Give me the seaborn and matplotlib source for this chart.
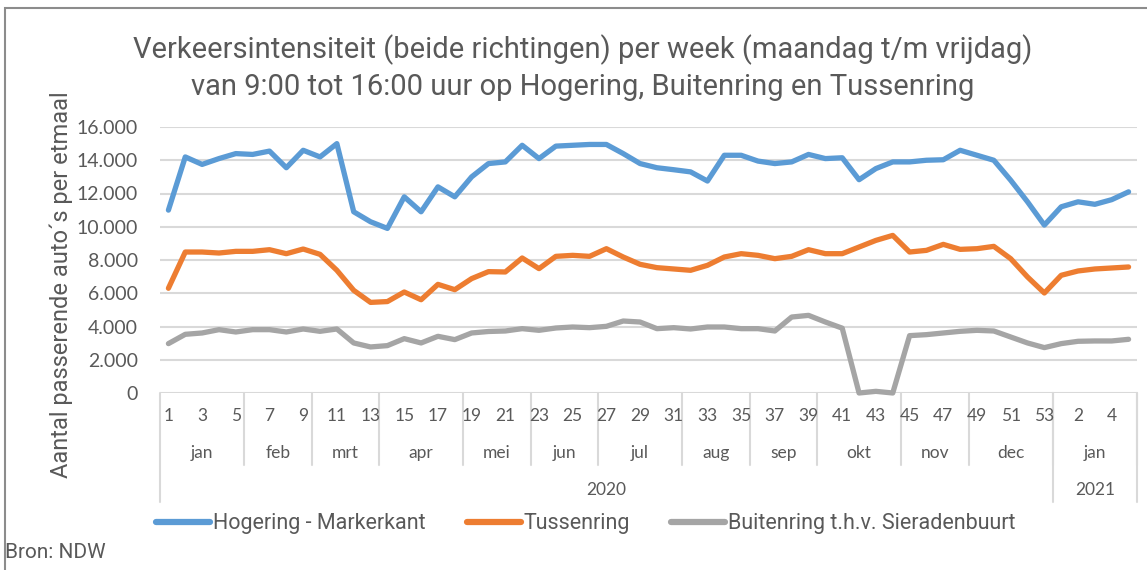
import pandas as pd
import numpy as np
import matplotlib
matplotlib.use("Agg")
import matplotlib.pyplot as plt
import matplotlib.transforms as mtransforms
from matplotlib.patches import Rectangle
import seaborn as sns

# Data
weeks_2020 = list(range(1, 54))
weeks_2021 = list(range(1, 6))
months = ["jan", "feb", "mrt", "apr", "mei", "jun", "jul", "aug", "sep", "okt", "nov", "dec", "jan"]
month_weeks = [5, 4, 4, 5, 4, 4, 5, 4, 4, 5, 4, 5, 5]
years = ["2020", "2021"]
year_weeks = [53, 5]

hogering = [11000, 14200, 13750, 14100, 14400, 14350, 14550, 13550, 14600, 14200,
            15000, 10900, 10300, 9900, 11800, 10900, 12400, 11800, 13000, 13800,
            13900, 14900, 14100, 14850, 14900, 14950, 14950, 14400, 13800, 13550,
            13430, 13300, 12750, 14300, 14300, 13950, 13800, 13900, 14350, 14100,
            14150, 12830, 13500, 13900, 13900, 14000, 14030, 14600, 14300, 14000,
            12800, 11500, 10100, 11200, 11500, 11350, 11630, 12100]
tussenring = [6300, 8480, 8480, 8420, 8520, 8520, 8620, 8380, 8660, 8340,
              7380, 6175, 5450, 5500, 6075, 5610, 6535, 6215, 6880, 7300,
              7280, 8120, 7480, 8220, 8280, 8220, 8680, 8180, 7740, 7540,
              7460, 7380, 7680, 8180, 8380, 8280, 8080, 8220, 8620, 8380,
              8380, 8780, 9180, 9480, 8480, 8580, 8940, 8640, 8680, 8820,
              8080, 6980, 6015, 7080, 7340, 7460, 7520, 7580]
buitenring = [2970, 3530, 3610, 3810, 3670, 3810, 3810, 3670, 3850, 3710,
              3850, 3010, 2770, 2850, 3270, 3010, 3410, 3210, 3610, 3700,
              3730, 3870, 3770, 3910, 3970, 3930, 4010, 4330, 4270, 3870,
              3930, 3850, 3970, 3970, 3870, 3870, 3730, 4570, 4670, 4270,
              3900, 0, 100, 0, 3450, 3510, 3610, 3710, 3770, 3730,
              3370, 3010, 2730, 2970, 3110, 3130, 3130, 3230]

series_names = ["Hogering - Markerkant", "Tussenring", "Buitenring t.h.v. Sieradenbuurt"]
y_ticks = [0, 2000, 4000, 6000, 8000, 10000, 12000, 14000, 16000]
y_tick_labels = ["0", "2.000", "4.000", "6.000", "8.000", "10.000", "12.000", "14.000", "16.000"]

title = ("Verkeersintensiteit (beide richtingen) per week (maandag t/m vrijdag)\n"
         "van 9:00 tot 16:00 uur op Hogering, Buitenring en Tussenring")
y_label = "Aantal passerende auto´s per etmaal"
source = "Bron: NDW"


def build_frame():
    week_labels = [str(w) for w in weeks_2020 + weeks_2021]
    n = len(week_labels)
    rows = []
    for name, vals in zip(series_names, [hogering, tussenring, buitenring]):
        for i in range(n):
            rows.append({"idx": i, "week": week_labels[i], "serie": name, "waarde": vals[i]})
    return pd.DataFrame(rows), week_labels


def main():
    df, week_labels = build_frame()
    n = len(week_labels)

    sns.set_theme(style="white")
    plt.rcParams["font.family"] = ["Roboto", "DejaVu Sans"]
    text_col = "#595959"
    grid_col = "#d9d9d9"
    palette = {series_names[0]: "#5b9bd5", series_names[1]: "#ed7d31", series_names[2]: "#a5a5a5"}
    num_font = ["Lato", "DejaVu Sans"]

    fig = plt.figure(figsize=(11.47, 5.70), dpi=100)
    ax = fig.add_axes([160 / 1147, 1 - 393 / 570, (1137 - 160) / 1147, (393 - 127) / 570])

    sns.lineplot(data=df, x="idx", y="waarde", hue="serie", palette=palette,
                 hue_order=series_names, estimator=None, sort=False, ax=ax,
                 linewidth=3.8, legend=False)
    for line in ax.get_lines():
        line.set_solid_capstyle("round")
        line.set_solid_joinstyle("round")
        line.set_clip_on(False)

    ax.set_xlim(-0.5, n - 0.5)
    ax.set_ylim(0, 16000)
    ax.set_yticks(y_ticks)
    ax.set_yticklabels(y_tick_labels, family=num_font, fontsize=14, color=text_col)
    ax.tick_params(axis="y", length=0, pad=16)
    ax.set_xticks([])
    ax.set_xlabel("")
    ax.set_ylabel(y_label, fontsize=17, color=text_col)
    ax.yaxis.set_label_coords(-0.089, 0.406)
    for y in y_ticks:
        ax.axhline(y, color=grid_col, lw=1.5, zorder=0)
    for s in ax.spines.values():
        s.set_visible(False)

    # multi-level category axis
    trans = mtransforms.blended_transform_factory(ax.transData, ax.transAxes)
    for i, lab in enumerate(week_labels):
        if i % 2 == 0:
            ax.text(i, -0.087, lab, transform=trans, ha="center", va="center",
                    fontsize=12.5, color=text_col, family=num_font)
    start = 0
    for m, cnt in zip(months, month_weeks):
        ax.text(start + cnt / 2 - 0.5, -0.225, m, transform=trans, ha="center", va="center",
                fontsize=12.5, color=text_col, family=num_font)
        start += cnt
        ax.plot([start - 0.5, start - 0.5], [0, -0.272], transform=trans,
                color=grid_col, lw=1.5, clip_on=False)
    ax.plot([-0.5, -0.5], [0, -0.41], transform=trans, color=grid_col, lw=1.5, clip_on=False)
    start = 0
    for yr, cnt in zip(years, year_weeks):
        ax.text(start + cnt / 2 - 0.5, -0.365, yr, transform=trans, ha="center", va="center",
                fontsize=12.5, color=text_col, family=num_font)
        start += cnt
        ax.plot([start - 0.5, start - 0.5], [0, -0.41], transform=trans,
                color=grid_col, lw=1.5, clip_on=False)

    fig.text(583 / 1147, 1 - 68 / 570, title, ha="center", va="center", fontsize=21,
             color=text_col, linespacing=1.35)

    handles = [plt.Line2D([], [], color=palette[s], lw=4.5, solid_capstyle="round") for s in series_names]
    fig.legend(handles, series_names, loc="center", bbox_to_anchor=(586 / 1147, 1 - 524 / 570),
               ncol=3, frameon=False, fontsize=15.5, handlelength=2.5, handletextpad=0.15,
               columnspacing=1.9, labelcolor=text_col)

    fig.text(5 / 1147, 1 - 553 / 570, source, ha="left", va="center", fontsize=15, color=text_col)

    fig.patches.append(Rectangle((5 / 1147, -0.1), 1.2, 1.1 - 8 / 570, transform=fig.transFigure,
                                 fill=False, edgecolor="#8c8c8c", lw=1.5))

    fig.savefig("out.png", dpi=100)


if __name__ == "__main__":
    main()
